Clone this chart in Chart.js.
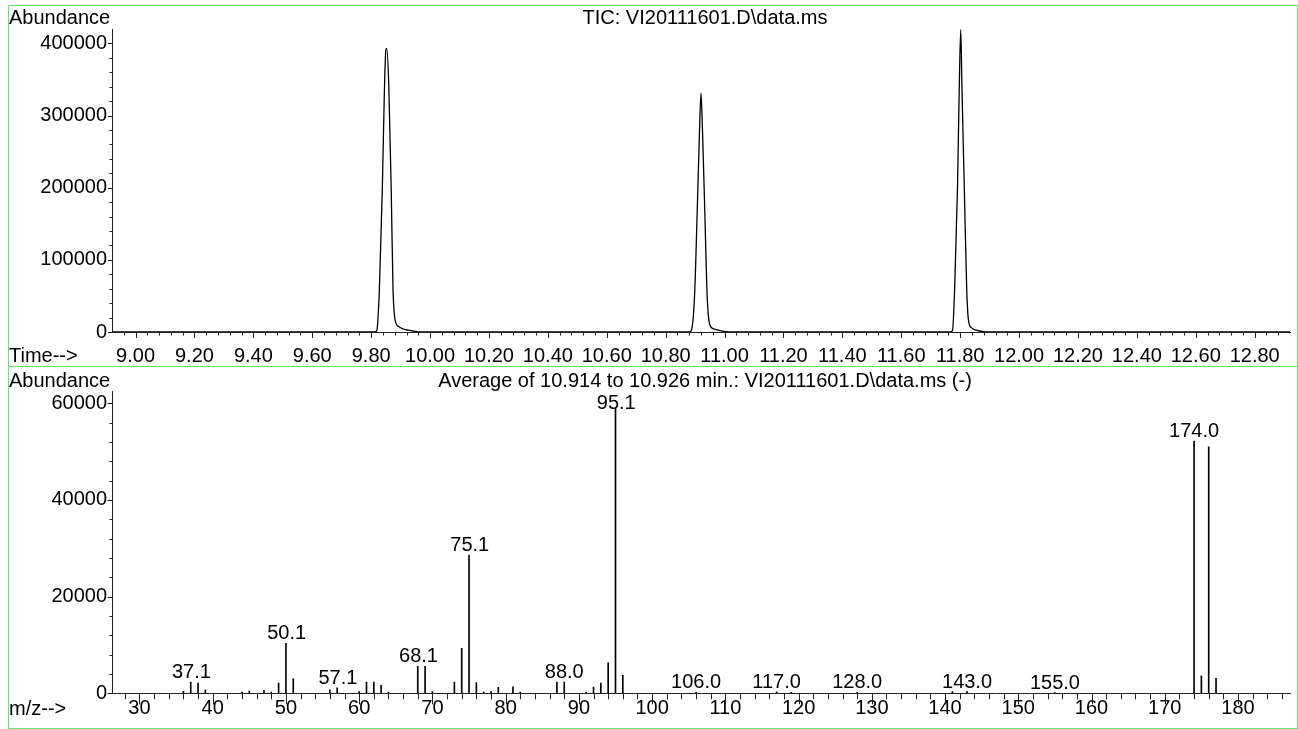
<!DOCTYPE html>
<html><head><meta charset="utf-8">
<script src="https://cdn.jsdelivr.net/npm/chart.js@4.4.0/dist/chart.umd.min.js"></script>
<style>
html,body{margin:0;padding:0;background:#fff;width:1298px;height:729px;overflow:hidden;}
canvas{position:absolute;left:0;}
#c1{top:0}#c2{top:367px}
.box{position:absolute;border:1px solid #66e666;box-sizing:border-box;pointer-events:none}
</style></head><body>
<canvas id="c1" width="1298" height="367"></canvas>
<canvas id="c2" width="1298" height="362"></canvas>
<div class="box" style="left:8px;top:5px;width:1290px;height:362px"></div>
<div class="box" style="left:8px;top:366px;width:1290px;height:363px"></div>
<script>
// ---- TIC chromatogram (time in min, abundance) ----
const ticTimes = [8.92, 9.40, 9.812, 9.819, 9.828, 9.838, 9.845, 9.850, 9.853, 9.860, 9.868, 9.874, 9.881, 9.893, 9.910, 9.926, 9.955, 10.00, 10.50,
  10.880, 10.887, 10.898, 10.907, 10.915, 10.920, 10.925, 10.933, 10.941, 10.950, 10.965, 10.997, 11.03, 11.40,
  11.766, 11.774, 11.7815, 11.791, 11.797, 11.802, 11.806, 11.814, 11.822, 11.828, 11.838, 11.855, 11.880, 11.92, 12.40, 12.92];
const ticValues = [0, 0, 0, 2000, 60000, 200000, 335000, 391000, 393000, 340000, 200000, 63000, 17000, 7500, 4000, 2500, 500, 0, 0,
  0, 2000, 49000, 165000, 280000, 331000, 280000, 165000, 49000, 10000, 4000, 1000, 0, 0,
  0, 2000, 63000, 201000, 340000, 419000, 340000, 201000, 63000, 17000, 6000, 2500, 500, 0, 0, 0];

// ---- Mass spectrum (m/z, abundance) ----
const mzValues = [36,37,38,39,44,45,47,48,49,50,51,56,57,60,61,62,63,64,68,69,70,73,74,75,76,77,78,79,81,82,87,88,91,92,93,94,95,96,106,117,119,128,141,143,155,174,175,176,177];
const mzAbund = [400,2300,2100,700,250,450,600,250,2100,10350,3000,700,1150,350,2300,2300,1650,250,5600,5600,350,2300,9300,28600,2200,250,350,1250,1350,250,2300,2300,250,1300,2100,6300,58950,3700,200,300,200,200,350,350,150,52200,3600,51000,3100];
const peakLabels = [37.1, 50.1, 57.1, 68.1, 75.1, 88.0, 95.1, 106.0, 117.0, 128.0, 143.0, 155.0, 174.0];

// ---- tick definitions ----
const ticMajorStep = 0.2, ticMinorStep = 0.04;
const ticYMajor = 100000, ticYMinor = 20000;
const msXMajor = 10, msXMinor = 2;
const msYMajor = 20000, msYMinor = 4000;

const titleTop = 'TIC: VI20111601.D\\data.ms';
const titleBottom = 'Average of 10.914 to 10.926 min.: VI20111601.D\\data.ms (-)';

const FAM = '"Liberation Sans", Arial, sans-serif';
const FS = 20;
Chart.defaults.font.family = FAM;
Chart.defaults.font.size = FS;
Chart.defaults.color = '#000';

const tickMarks = {
  id: 'tickMarks',
  afterDraw(chart, args, o) {
    const ctx = chart.ctx, xs = chart.scales.x, ys = chart.scales.y;
    ctx.save(); ctx.strokeStyle = '#222'; ctx.lineWidth = 1;
    xs.ticks.forEach(t => {
      const p = Math.round(xs.getPixelForValue(t.value)) + 0.5;
      const len = t.major ? o.xMajor : o.xMinor;
      ctx.beginPath(); ctx.moveTo(p, xs.top); ctx.lineTo(p, xs.top + len); ctx.stroke();
    });
    ys.ticks.forEach(t => {
      const p = Math.round(ys.getPixelForValue(t.value)) + 0.5;
      const len = t.major ? o.yMajor : o.yMinor;
      ctx.beginPath(); ctx.moveTo(ys.right, p); ctx.lineTo(ys.right - len, p); ctx.stroke();
    });
    ctx.restore();
  }
};
const texts = {
  id: 'texts',
  afterDraw(chart, args, o) {
    const ctx = chart.ctx;
    ctx.save(); ctx.fillStyle = '#000'; ctx.font = FS + 'px ' + FAM; ctx.textBaseline = 'alphabetic';
    (o.items || []).forEach(it => {
      ctx.textAlign = it.align || 'left';
      const x = it.x === 'center' ? (chart.chartArea.left + chart.chartArea.right) / 2 + 4 : it.x;
      ctx.fillText(it.text, x, it.y);
    });
    ctx.restore();
  }
};
const peakText = {
  id: 'peakText',
  afterDatasetsDraw(chart, args, o) {
    if (!o.labels) return;
    const ctx = chart.ctx, xs = chart.scales.x, ys = chart.scales.y;
    ctx.save(); ctx.fillStyle = '#000'; ctx.font = FS + 'px ' + FAM; ctx.textAlign = 'center'; ctx.textBaseline = 'alphabetic';
    o.labels.forEach(m => {
      const i = mzValues.indexOf(Math.round(m));
      const v = i >= 0 ? mzAbund[i] : 0;
      let y = ys.getPixelForValue(v) - 4;
      y = Math.max(y, chart.chartArea.top + 17.6);
      ctx.fillText(m.toFixed(1), xs.getPixelForValue(m), y);
    });
    ctx.restore();
  }
};

function makeTicks(min, max, step, majorStep) {
  const out = [];
  const n0 = Math.ceil(min / step - 1e-9), n1 = Math.floor(max / step + 1e-9);
  const r = Math.round(majorStep / step);
  for (let n = n0; n <= n1; n++) {
    const v = +(n * step).toFixed(6);
    if (v <= min + 1e-9 && min !== 0) continue;
    if (v >= max - 1e-9) continue;
    out.push({ value: v, major: n % r === 0 });
  }
  return out;
}

new Chart(document.getElementById('c1'), {
  type: 'line',
  data: { datasets: [{ data: ticTimes.map((t, i) => ({ x: t, y: ticValues[i] })), borderColor: '#000', borderWidth: 1.3, pointRadius: 0, cubicInterpolationMode: 'monotone', fill: false }] },
  options: {
    responsive: false, animation: false, events: [],
    layout: { padding: { left: 0, right: 8, top: 29, bottom: 0 } },
    plugins: { legend: { display: false }, tooltip: { enabled: false },
      tickMarks: { xMajor: 6, xMinor: 3.5, yMajor: 4, yMinor: 2.5 },
      texts: { items: [
        { text: 'Abundance', x: 9, y: 24 },
        { text: titleTop, x: 'center', y: 24, align: 'center' },
        { text: 'Time-->', x: 9, y: 361.5 } ] } },
    scales: {
      x: { type: 'linear', min: 8.92, max: 12.92, offset: false,
        afterBuildTicks: s => { s.ticks = makeTicks(8.92, 12.92, ticMinorStep, ticMajorStep); },
        afterFit: s => { s.height = 35; },
        ticks: { autoSkip: false, maxRotation: 0, padding: 12.6, callback: (v, i, t) => t[i].major ? Number(v).toFixed(2) : '' },
        grid: { display: true, drawOnChartArea: false, drawTicks: false },
        border: { display: true, color: '#222', width: 1 } },
      y: { type: 'linear', min: 0, max: 420000,
        afterBuildTicks: s => { s.ticks = makeTicks(0, 420000, ticYMinor, ticYMajor); },
        afterFit: s => { s.width = 112; },
        ticks: { autoSkip: false, padding: 5, callback: (v, i, t) => t[i].major ? String(v) : '' },
        grid: { display: true, drawOnChartArea: false, drawTicks: false },
        border: { display: true, color: '#222', width: 1 } }
    }
  },
  plugins: [tickMarks, texts]
});

new Chart(document.getElementById('c2'), {
  type: 'bar',
  data: { datasets: [{ data: mzValues.map((m, i) => ({ x: m, y: mzAbund[i] })), backgroundColor: '#000', borderWidth: 0, barThickness: 1, grouped: false }] },
  options: {
    responsive: false, animation: false, events: [],
    layout: { padding: { left: 0, right: 8, top: 24.7, bottom: 0 } },
    plugins: { legend: { display: false }, tooltip: { enabled: false },
      tickMarks: { xMajor: 11, xMinor: 6, yMajor: 4.5, yMinor: 2.5 },
      peakText: { labels: peakLabels },
      texts: { items: [
        { text: 'Abundance', x: 9, y: 19.7 },
        { text: titleBottom, x: 'center', y: 19.7, align: 'center' },
        { text: 'm/z-->', x: 9, y: 348 } ] } },
    scales: {
      x: { type: 'linear', min: 26.25, max: 187.1, offset: false,
        afterBuildTicks: s => { s.ticks = makeTicks(26.25, 187.1, msXMinor, msXMajor); },
        afterFit: s => { s.height = 35.7; },
        ticks: { autoSkip: false, maxRotation: 0, padding: 3.6, callback: (v, i, t) => t[i].major ? String(v) : '' },
        grid: { display: true, drawOnChartArea: false, drawTicks: false },
        border: { display: true, color: '#222', width: 1 } },
      y: { type: 'linear', min: 0, max: 62400,
        afterBuildTicks: s => { s.ticks = makeTicks(0, 62400, msYMinor, msYMajor); },
        afterFit: s => { s.width = 112; },
        ticks: { autoSkip: false, padding: 5, callback: (v, i, t) => t[i].major ? String(v) : '' },
        grid: { display: true, drawOnChartArea: false, drawTicks: false },
        border: { display: true, color: '#222', width: 1 } }
    }
  },
  plugins: [tickMarks, texts, peakText]
});
</script>
</body></html>
